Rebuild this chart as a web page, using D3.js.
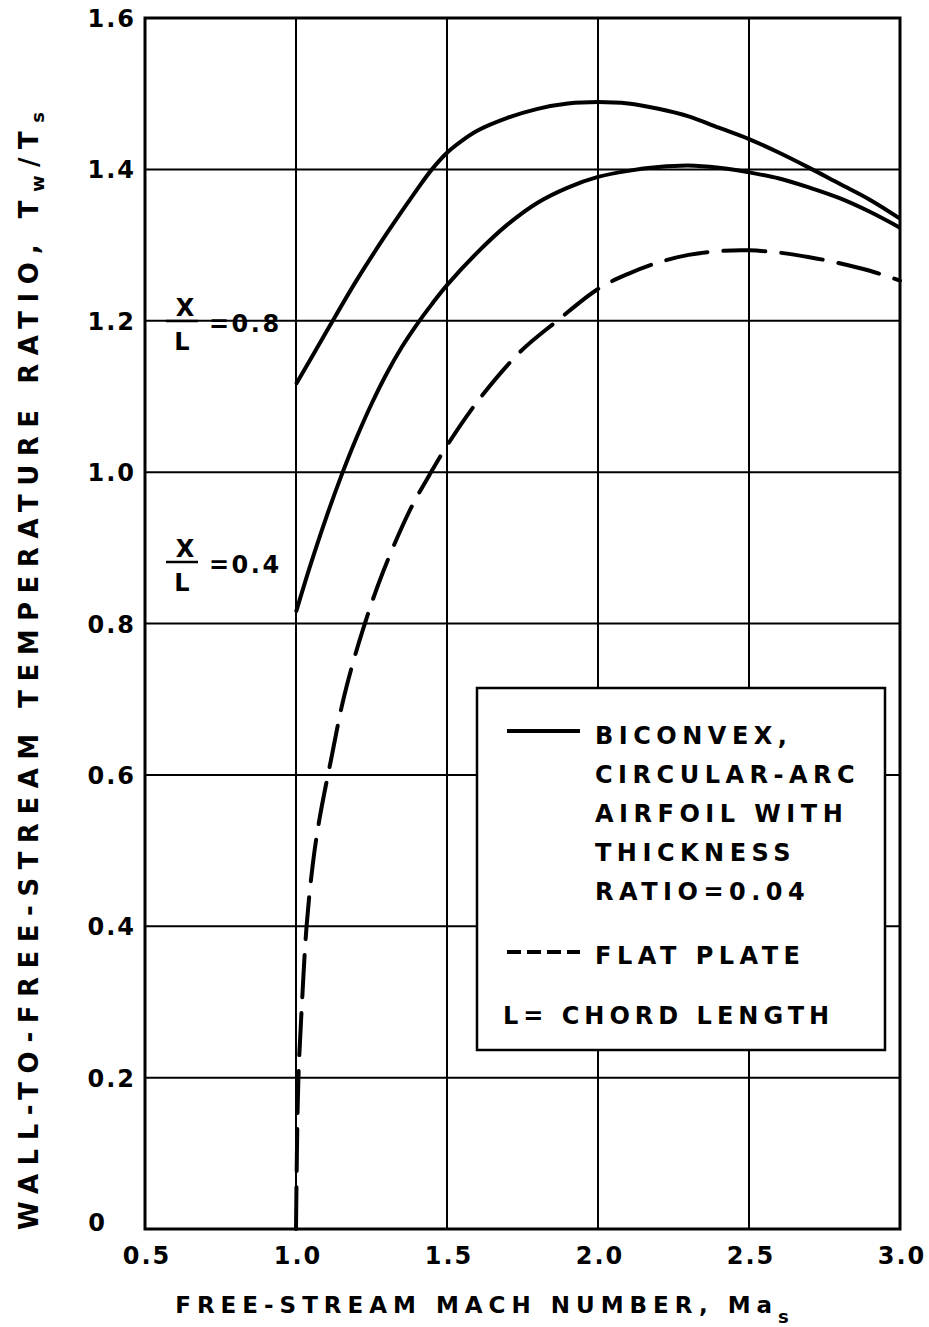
<!DOCTYPE html>
<html>
<head>
<meta charset="utf-8">
<script src="https://cdn.jsdelivr.net/npm/d3@7"></script>
<style>
  body { margin: 0; background: #fff; }
  text { font-family: "DejaVu Sans", sans-serif; font-weight: bold; fill: #000; }
</style>
</head>
<body>
<div id="chart"></div>
<script>
// x/L = 0.8, biconvex airfoil
var machUpper = [1.0, 1.1, 1.2, 1.3, 1.4, 1.45, 1.5, 1.55, 1.6, 1.7, 1.8, 1.9, 2.0, 2.1, 2.2, 2.3, 2.4, 2.5, 2.6, 2.7, 2.8, 2.9, 3.0];
var ratioUpper = [1.116, 1.185, 1.253, 1.315, 1.373, 1.40, 1.422, 1.438, 1.451, 1.468, 1.48, 1.487, 1.489, 1.487, 1.48, 1.47, 1.455, 1.44, 1.422, 1.402, 1.381, 1.36, 1.335];

// x/L = 0.4, biconvex airfoil
var machLower = [1.0, 1.05, 1.1, 1.15, 1.2, 1.25, 1.3, 1.35, 1.4, 1.45, 1.5, 1.6, 1.7, 1.8, 1.9, 2.0, 2.1, 2.2, 2.3, 2.4, 2.5, 2.6, 2.7, 2.8, 2.9, 3.0];
var ratioLower = [0.815, 0.88, 0.94, 0.995, 1.045, 1.09, 1.13, 1.165, 1.195, 1.222, 1.247, 1.29, 1.327, 1.356, 1.376, 1.39, 1.398, 1.403, 1.405, 1.402, 1.396, 1.388, 1.376, 1.362, 1.344, 1.323];

// flat plate
var machFlat = [1.0, 1.003, 1.008, 1.02, 1.035, 1.055, 1.077, 1.116, 1.16, 1.22, 1.29, 1.38, 1.44, 1.5, 1.61, 1.745, 1.865, 2.0, 2.1, 2.2, 2.3, 2.4, 2.5, 2.6, 2.7, 2.8, 2.9, 3.0];
var ratioFlat = [0.0, 0.1, 0.2, 0.3, 0.4, 0.48, 0.54, 0.62, 0.705, 0.79, 0.87, 0.952, 0.995, 1.035, 1.098, 1.16, 1.2, 1.242, 1.262, 1.277, 1.287, 1.292, 1.293, 1.29, 1.284, 1.276, 1.266, 1.253];

var xTicks = [0.5, 1.0, 1.5, 2.0, 2.5, 3.0];
var xTickLabels = ["0.5", "1.0", "1.5", "2.0", "2.5", "3.0"];
var yTicks = [0, 0.2, 0.4, 0.6, 0.8, 1.0, 1.2, 1.4, 1.6];
var yTickLabels = ["0", "0.2", "0.4", "0.6", "0.8", "1.0", "1.2", "1.4", "1.6"];
var legendLines = ["BICONVEX,", "CIRCULAR-ARC", "AIRFOIL WITH", "THICKNESS", "RATIO=0.04"];

var width = 929, height = 1327;
var margin = {top: 18, right: 29, bottom: 98, left: 145};
var w = width - margin.left - margin.right,
    h = height - margin.top - margin.bottom;

var svg = d3.select("#chart").append("svg")
    .attr("width", width)
    .attr("height", height)
  .append("g")
    .attr("transform", "translate(" + margin.left + "," + margin.top + ")");

var x = d3.scaleLinear().domain([0.5, 3.0]).range([0, w]);
var y = d3.scaleLinear().domain([0, 1.6]).range([h, 0]);

// grid
svg.append("g").selectAll("line.vgrid")
    .data(xTicks.slice(1, -1))
    .enter().append("line")
    .attr("x1", d => x(d)).attr("x2", d => x(d))
    .attr("y1", 0).attr("y2", h)
    .style("stroke", "#000").style("stroke-width", 2);

svg.append("g").selectAll("line.hgrid")
    .data(yTicks.slice(1, -1))
    .enter().append("line")
    .attr("x1", 0).attr("x2", w)
    .attr("y1", d => y(d)).attr("y2", d => y(d))
    .style("stroke", "#000").style("stroke-width", 2);

// frame
svg.append("rect")
    .attr("x", 0).attr("y", 0).attr("width", w).attr("height", h)
    .style("fill", "none").style("stroke", "#000").style("stroke-width", 3);

// tick labels
svg.append("g").selectAll("text")
    .data(xTicks)
    .enter().append("text")
    .attr("x", d => x(d) + 2)
    .attr("y", h + 35)
    .attr("text-anchor", "middle")
    .style("font-size", "24px")
    .style("letter-spacing", "2px")
    .text((d, i) => xTickLabels[i]);

svg.append("g").selectAll("text")
    .data(yTicks)
    .enter().append("text")
    .attr("x", d => d === 0 ? -38 : -9)
    .attr("y", d => y(d) + (d === 0 ? 2 : 9))
    .attr("text-anchor", "end")
    .style("font-size", "24px")
    .style("letter-spacing", "2px")
    .text((d, i) => yTickLabels[i]);

// curves
var line = d3.line()
    .x(d => x(d[0]))
    .y(d => y(d[1]))
    .curve(d3.curveCatmullRom.alpha(0.5));

function pairs(xs, ys) { return xs.map((v, i) => [v, ys[i]]); }

svg.append("path")
    .datum(pairs(machUpper, ratioUpper))
    .attr("d", line)
    .style("fill", "none").style("stroke", "#000").style("stroke-width", 4);

svg.append("path")
    .datum(pairs(machLower, ratioLower))
    .attr("d", line)
    .style("fill", "none").style("stroke", "#000").style("stroke-width", 4);

svg.append("path")
    .datum(pairs(machFlat, ratioFlat))
    .attr("d", line)
    .style("fill", "none").style("stroke", "#000").style("stroke-width", 4)
    .style("stroke-linecap", "round")
    .style("stroke-dasharray", "42,16");

// x/L labels
function fracLabel(yBar, value) {
  var g = svg.append("g");
  g.append("text").attr("x", 40).attr("y", yBar - 5)
      .attr("text-anchor", "middle").style("font-size", "24px").text("X");
  g.append("line").attr("x1", 21).attr("x2", 53).attr("y1", yBar).attr("y2", yBar)
      .style("stroke", "#000").style("stroke-width", 2.5);
  g.append("text").attr("x", 37).attr("y", yBar + 29)
      .attr("text-anchor", "middle").style("font-size", "24px").text("L");
  g.append("text").attr("x", 64).attr("y", yBar + 11)
      .style("font-size", "24px").style("letter-spacing", "2.5px").text("=" + value);
}
fracLabel(303, "0.8");
fracLabel(544, "0.4");

// legend
var lg = svg.append("g").attr("transform", "translate(" + (477 - margin.left) + "," + (688 - margin.top) + ")");
lg.append("rect")
    .attr("width", 408).attr("height", 362)
    .style("fill", "#fff").style("stroke", "#000").style("stroke-width", 2.5);
lg.append("line").attr("x1", 30).attr("x2", 103).attr("y1", 43).attr("y2", 43)
    .style("stroke", "#000").style("stroke-width", 4);
lg.selectAll("text.desc")
    .data(legendLines)
    .enter().append("text")
    .attr("x", 118)
    .attr("y", (d, i) => 56 + i * 39)
    .style("font-size", "24px")
    .style("letter-spacing", "5.5px")
    .text(d => d);
lg.append("line").attr("x1", 30).attr("x2", 103).attr("y1", 264).attr("y2", 264)
    .style("stroke", "#000").style("stroke-width", 4)
    .style("stroke-dasharray", "14,6");
lg.append("text").attr("x", 118).attr("y", 276)
    .style("font-size", "24px").style("letter-spacing", "5.5px").text("FLAT PLATE");
lg.append("text").attr("x", 26).attr("y", 336)
    .style("font-size", "24px").style("letter-spacing", "5px").text("L= CHORD LENGTH");

// axis titles
var xt = svg.append("text")
    .attr("x", 485 - margin.left)
    .attr("y", 1313 - margin.top)
    .attr("text-anchor", "middle")
    .style("font-size", "23px")
    .style("letter-spacing", "6px");
xt.append("tspan").text("FREE-STREAM MACH NUMBER, Ma");
xt.append("tspan").attr("dy", 10).style("font-size", "18px").text("s");

var yt = svg.append("text")
    .attr("transform", "translate(" + (38 - margin.left) + "," + (1230 - margin.top) + ") rotate(-90)")
    .attr("text-anchor", "start")
    .attr("textLength", 1118)
    .attr("lengthAdjust", "spacing")
    .style("font-size", "26px");
yt.append("tspan").text("WALL-TO-FREE-STREAM TEMPERATURE RATIO, T");
yt.append("tspan").attr("dy", 6).style("font-size", "18px").text("w");
yt.append("tspan").attr("dy", -6).text("/T");
yt.append("tspan").attr("dy", 6).style("font-size", "18px").text("s");
</script>
</body>
</html>
